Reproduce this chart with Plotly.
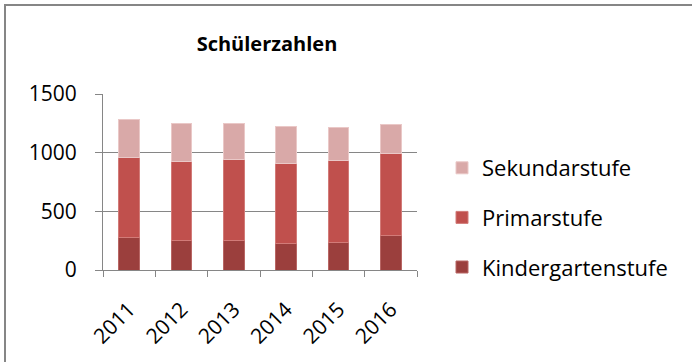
import plotly.graph_objects as go

# Schülerzahlen nach Stufe, 2011–2016
jahre = ["2011", "2012", "2013", "2014", "2015", "2016"]
kindergartenstufe = [276, 253, 253, 228, 233, 296]
primarstufe = [683, 675, 686, 680, 701, 700]
sekundarstufe = [322, 324, 313, 316, 281, 248]

y_ticks = [0, 500, 1000, 1500]

FONT = "Open Sans"
W, H = 693, 363
L, R, T, B = 103, 276, 94, 93
PW, PH = W - L - R, H - T - B


def px_x(px):
    return (px - L) / PW


def px_y(py):
    return (H - B - py) / PH


fig = go.Figure()
series = [
    ("Kindergartenstufe", kindergartenstufe, "#9B3F3D", "#B86664", 3),
    ("Primarstufe", primarstufe, "#C0504D", "#D27B78", 2),
    ("Sekundarstufe", sekundarstufe, "#D9A9A8", "#EAC8C7", 1),
]
for name, vals, col, edge, rank in series:
    fig.add_trace(go.Bar(
        x=jahre, y=vals, name=name, legendgroup=name, legendrank=rank,
        marker=dict(color=col, line=dict(color=edge, width=1)),
    ))

# outer chart frame: left edge and top edge only
frame = dict(type="line", xref="paper", yref="paper",
             line=dict(color="#868686", width=2))
fig.add_shape(**frame, x0=px_x(5), x1=px_x(5), y0=px_y(H - 1), y1=px_y(5))
fig.add_shape(**frame, x0=px_x(4), x1=px_x(W - 1), y0=px_y(5), y1=px_y(5))

fig.update_layout(
    width=W, height=H,
    margin=dict(l=L, r=R, t=T, b=B),
    paper_bgcolor="white", plot_bgcolor="white",
    barmode="stack", bargap=0.6,
    font=dict(family=FONT, color="#000000"),
    title=dict(text="<b>Schülerzahlen</b>", x=px_x(267), xref="paper",
               xanchor="center", y=1 - 44 / H, yref="container",
               yanchor="middle", font=dict(size=20, family=FONT)),
    showlegend=True,
    legend=dict(x=px_x(442), y=px_y(147), xanchor="left", yanchor="top",
                traceorder="grouped", tracegroupgap=18,
                font=dict(size=22, family=FONT), bgcolor="rgba(0,0,0,0)",
                itemwidth=30),
    xaxis=dict(showline=True, linecolor="#868686", linewidth=1,
               ticks="outside", ticklen=6, tickcolor="#868686",
               tickson="boundaries", tickangle=-45, ticklabelstandoff=18,
               tickfont=dict(size=21, family=FONT), showgrid=False,
               automargin=False),
    yaxis=dict(range=[0, 1500], tickvals=y_ticks, showline=True,
               linecolor="#868686", linewidth=1, ticks="outside",
               ticklen=7, tickcolor="#868686", showgrid=True,
               gridcolor="#868686", gridwidth=1, zeroline=False,
               ticklabelstandoff=14, automargin=False,
               tickfont=dict(size=21, family=FONT)),
)

fig.write_html("out.html")
